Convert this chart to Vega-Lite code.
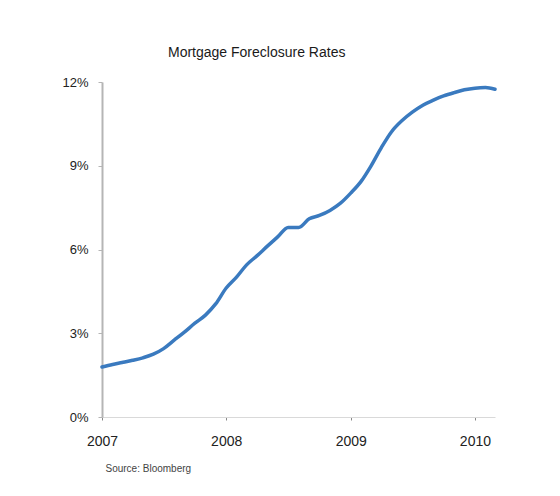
{
  "$schema": "https://vega.github.io/schema/vega-lite/v6.json",
  "width": 393,
  "height": 335,
  "autosize": {"type": "none"},
  "padding": {"left": 102, "top": 82, "right": 65, "bottom": 79},
  "background": "white",
  "title": {
    "text": "Mortgage Foreclosure Rates",
    "anchor": "start",
    "frame": "group",
    "dx": 66,
    "offset": 16,
    "fontSize": 14,
    "font": "Liberation Sans",
    "fontWeight": "normal",
    "color": "#1a1a1a"
  },
  "data": {
    "values": [
      {"date": "2007-01-01", "rate": 1.79},
      {"date": "2007-02-01", "rate": 1.88},
      {"date": "2007-03-01", "rate": 1.95},
      {"date": "2007-04-01", "rate": 2.03},
      {"date": "2007-05-01", "rate": 2.12},
      {"date": "2007-06-01", "rate": 2.25},
      {"date": "2007-07-01", "rate": 2.45},
      {"date": "2007-08-01", "rate": 2.75},
      {"date": "2007-09-01", "rate": 3.05},
      {"date": "2007-10-01", "rate": 3.36},
      {"date": "2007-11-01", "rate": 3.65},
      {"date": "2007-12-01", "rate": 4.05},
      {"date": "2008-01-01", "rate": 4.62},
      {"date": "2008-02-01", "rate": 5.02},
      {"date": "2008-03-01", "rate": 5.45},
      {"date": "2008-04-01", "rate": 5.78},
      {"date": "2008-05-01", "rate": 6.12},
      {"date": "2008-06-01", "rate": 6.46},
      {"date": "2008-07-01", "rate": 6.79},
      {"date": "2008-08-01", "rate": 6.79},
      {"date": "2008-09-01", "rate": 7.1},
      {"date": "2008-10-01", "rate": 7.22},
      {"date": "2008-11-01", "rate": 7.4},
      {"date": "2008-12-01", "rate": 7.65},
      {"date": "2009-01-01", "rate": 8.02},
      {"date": "2009-02-01", "rate": 8.45},
      {"date": "2009-03-01", "rate": 8.98},
      {"date": "2009-04-01", "rate": 9.65},
      {"date": "2009-05-01", "rate": 10.22},
      {"date": "2009-06-01", "rate": 10.62},
      {"date": "2009-07-01", "rate": 10.92},
      {"date": "2009-08-01", "rate": 11.17},
      {"date": "2009-09-01", "rate": 11.35},
      {"date": "2009-10-01", "rate": 11.5},
      {"date": "2009-11-01", "rate": 11.62},
      {"date": "2009-12-01", "rate": 11.72},
      {"date": "2010-01-01", "rate": 11.78},
      {"date": "2010-02-01", "rate": 11.8},
      {"date": "2010-03-01", "rate": 11.74}
    ]
  },
  "mark": {"type": "line", "color": "#3a7abf", "strokeWidth": 3.5, "strokeCap": "round", "strokeJoin": "round", "interpolate": "monotone"},
  "encoding": {
    "x": {
      "field": "date",
      "type": "temporal",
      "scale": {"domain": ["2007-01-01", "2010-03-01"]},
      "axis": {
        "tickCount": {"interval": "year", "step": 1},
        "format": "%Y",
        "labelAngle": 0,
        "grid": false,
        "domainColor": "#d9d9d9",
        "domainWidth": 1,
        "tickColor": "#888",
        "tickSize": 3,
        "labelPadding": 14,
        "labelFontSize": 14,
        "labelFont": "Liberation Sans",
        "labelColor": "#222",
        "labelFlush": false,
        "labelOverlap": false,
        "title": "Source: Bloomberg",
        "titleAnchor": "start",
        "titleAlign": "left",
        "titleX": 3,
        "titleY": 51,
        "titleBaseline": "middle",
        "titleFontSize": 10,
        "titleFontWeight": "normal",
        "titleColor": "#444",
        "titleFont": "Liberation Sans"
      }
    },
    "y": {
      "field": "rate",
      "type": "quantitative",
      "scale": {"domain": [0, 12], "nice": false},
      "axis": {
        "values": [0, 3, 6, 9, 12],
        "labelExpr": "datum.value + '%'",
        "grid": false,
        "domainColor": "#b5b5b5",
        "domainWidth": 2,
        "tickColor": "#b5b5b5",
        "tickSize": 4,
        "labelPadding": 10,
        "labelFontSize": 13,
        "labelFont": "Liberation Sans",
        "labelColor": "#222",
        "title": null
      }
    }
  },
  "config": {"view": {"stroke": null}}
}
